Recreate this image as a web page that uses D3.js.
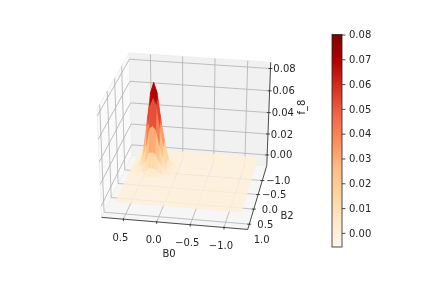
<!DOCTYPE html>
<html>
<head>
<meta charset="utf-8">
<script src="https://cdn.jsdelivr.net/npm/d3@7"></script>
<style>
  html, body { margin: 0; padding: 0; background: #fff; }
  svg { filter: blur(0.35px); }
  text { font-family: "DejaVu Sans", sans-serif; font-size: 10px; fill: #262626; }
</style>
</head>
<body>
<svg id="chart" width="423" height="282"></svg>
<script>
// tick labels
const b0Ticks = [0.5, 0, -0.5, -1];
const b2Ticks = [-1, -0.5, 0, 0.5, 1];
const fTicks = [0, 0.02, 0.04, 0.06, 0.08];
const barTicks = [0, 0.01, 0.02, 0.03, 0.04, 0.05, 0.06, 0.07, 0.08];

// axis limits
const b0Limits = [-1.35, 0.83];
const b2Limits = [-1.56, 0.67];
const fLimits = [-0.0102, 0.0856];
const colorLimits = [-0.0057, 0.08];

// surface grid, dense only around the peak
const b0Grid = [-1.23, -0.04, 0.0, 0.05, 0.1, 0.15, 0.2, 0.25, 0.3, 0.35, 0.4, 0.45, 0.5, 0.55, 0.6, 0.64, 0.66];
const b2Grid = [-1.45, -1.09, -1.03, -0.97, -0.9, -0.83, -0.77, -0.7, -0.64, -0.57, -0.5, -0.45, 0.5];
// f_8 on the inner nodes, rows follow b2Grid, columns follow b0Grid
const fPeak = [
  [.0001, .0006, .0008, .0030, .0038, .0070, .0066, .0067, .0036, .0030, .0007, .0005, .0001],
  [.0002, .0014, .0022, .0082, .0108, .0198, .0192, .0190, .0112, .0074, .0022, .0014, .0002],
  [.0005, .0032, .0044, .0165, .0235, .0410, .0420, .0395, .0245, .0152, .0048, .0028, .0005],
  [.0008, .0040, .0080, .0235, .0395, .0610, .0670, .0600, .0390, .0232, .0078, .0038, .0008],
  [.0009, .0042, .0098, .0262, .0470, .0700, .0785, .0690, .0475, .0255, .0100, .0040, .0009],
  [.0008, .0036, .0084, .0226, .0402, .0605, .0670, .0590, .0410, .0220, .0086, .0034, .0008],
  [.0005, .0026, .0050, .0150, .0250, .0390, .0425, .0400, .0240, .0160, .0046, .0030, .0005],
  [.0002, .0014, .0024, .0076, .0118, .0188, .0200, .0195, .0110, .0084, .0024, .0012, .0002],
  [.0001, .0005, .0009, .0030, .0040, .0064, .0072, .0070, .0036, .0032, .0009, .0006, .0001]
];

const svg = d3.select('#chart');

// camera, same idea as mplot3d
const elev = 30 * Math.PI / 180;
const azim = 100 * Math.PI / 180;
const dist = 10;
const centerX = 187, centerY = 139, scaleX = 146, scaleY = 122;

const toU = d3.scaleLinear().domain(b0Limits).range([0, 1]);
const toV = d3.scaleLinear().domain(b2Limits).range([0, 1]);
const toW = d3.scaleLinear().domain(fLimits).range([0, 1]);

const viewDir = [Math.cos(elev) * Math.cos(azim), Math.cos(elev) * Math.sin(azim), Math.sin(elev)];
const rightDir = [-Math.sin(azim), Math.cos(azim), 0];
const upDir = [-Math.sin(elev) * Math.cos(azim), -Math.sin(elev) * Math.sin(azim), Math.cos(elev)];
const dot = (a, b) => a[0] * b[0] + a[1] * b[1] + a[2] * b[2];

// returns screen x, y and distance from the eye
function project(b0, b2, f) {
    const p = [toU(b0) - 0.5, toV(b2) - 0.5, toW(f) - 0.5];
    const depth = dist - dot(p, viewDir);
    return [
        centerX + scaleX * dot(p, rightDir) * dist / depth,
        centerY - scaleY * dot(p, upDir) * dist / depth,
        depth
    ];
}

const [x0, x1] = b0Limits, [y0, y1] = b2Limits, [z0, z1] = fLimits;
const polygon = pts => d3.line()(pts.map(p => project(...p)));

// panes
const panes = [
    { fill: '#fafafa', pts: [[x1, y0, z0], [x1, y1, z0], [x1, y1, z1], [x1, y0, z1]] },
    { fill: '#f1f1f1', pts: [[x0, y0, z0], [x1, y0, z0], [x1, y0, z1], [x0, y0, z1]] },
    { fill: '#f6f6f6', pts: [[x0, y0, z0], [x1, y0, z0], [x1, y1, z0], [x0, y1, z0]] }
];
svg.append('g').selectAll('path').data(panes).join('path')
    .attr('d', d => polygon(d.pts) + 'Z')
    .attr('fill', d => d.fill)
    .attr('stroke', '#ececec')
    .attr('stroke-width', 0.8);

// grid lines
const gridLines = [];
b0Ticks.forEach(t => gridLines.push([[t, y1, z0], [t, y0, z0], [t, y0, z1]]));
b2Ticks.filter(t => t <= y1).forEach(t => gridLines.push([[x0, t, z0], [x1, t, z0], [x1, t, z1]]));
fTicks.forEach(t => gridLines.push([[x0, y0, t], [x1, y0, t], [x1, y1, t]]));
svg.append('g').selectAll('path').data(gridLines).join('path')
    .attr('d', polygon)
    .attr('fill', 'none')
    .attr('stroke', '#b0b0b0')
    .attr('stroke-width', 0.8);

// colours
const colorDomain = d3.range(9).map(i => colorLimits[0] + (colorLimits[1] - colorLimits[0]) * i / 8);
const color = d3.scaleLinear().domain(colorDomain).range(d3.schemeOrRd[9]);

// surface, flat zero everywhere outside fPeak
const fAt = (i, j) => (fPeak[j - 2] && fPeak[j - 2][i - 2]) || 0;
const faces = [];
for (let j = 0; j < b2Grid.length - 1; j++) {
    for (let i = 0; i < b0Grid.length - 1; i++) {
        const corners = [[i, j], [i + 1, j], [i + 1, j + 1], [i, j + 1]]
            .map(([a, b]) => [b0Grid[a], b2Grid[b], fAt(a, b)]);
        const screen = corners.map(c => project(...c));
        faces.push({
            corners,
            value: d3.mean(corners, c => c[2]),
            depth: d3.mean(screen, s => s[2])
        });
    }
}
faces.sort((a, b) => (a.value > 0) - (b.value > 0) || b.depth - a.depth);
svg.append('g').selectAll('path').data(faces).join('path')
    .attr('d', d => polygon(d.corners) + 'Z')
    .attr('fill', d => color(d.value))
    .attr('fill-opacity', d => d.value > 0 ? 1 : 0.88)
    .attr('stroke', d => d.value > 0 ? color(d.value) : 'none')
    .attr('stroke-width', 0.3);

// axis lines
const axisLine = [[x0, y1, z0], [x1, y1, z0]];
const axes = [axisLine, [[x0, y0, z0], [x0, y1, z0]], [[x0, y0, z0], [x0, y0, z1]]];
svg.append('g').selectAll('path').data(axes).join('path')
    .attr('d', polygon)
    .attr('stroke', '#222')
    .attr('stroke-width', 0.8)
    .attr('fill', 'none');

// ticks and their labels
function drawTicks(ticks, pos, inner, outer, dx, dy, fmt) {
    const g = svg.append('g');
    ticks.forEach(t => {
        const a = project(...pos(t));
        if (inner !== null) {
            g.append('line')
                .attr('x1', a[0] + inner[0]).attr('y1', a[1] + inner[1])
                .attr('x2', a[0] + outer[0]).attr('y2', a[1] + outer[1])
                .attr('stroke', '#222').attr('stroke-width', 0.8);
        }
        g.append('text')
            .attr('x', a[0] + dx).attr('y', a[1] + dy)
            .attr('text-anchor', 'middle')
            .attr('dominant-baseline', 'central')
            .text(fmt(t));
    });
}
const minus = s => s.replace('-', '\u2212');
const fmt1 = t => minus(d3.format('.1f')(t));
const fmt2 = t => d3.format('.2f')(t);
drawTicks(b0Ticks, t => [t, y1, z0], [0, -1], [0, 2], -3, 18, fmt1);
drawTicks(b2Ticks.filter(t => t <= y1), t => [x0, t, z0], [-2, 0], [2, 0], 16, 0, fmt1);
drawTicks(b2Ticks.filter(t => t > y1), t => [x0, t, z0], null, null, 17, 0, fmt1);
drawTicks(fTicks, t => [x0, y0, t], [-2, 0], [2, 0], 14, 0, fmt2);

// axis titles
svg.append('text').attr('x', 169).attr('y', 253).attr('text-anchor', 'middle').attr('dominant-baseline', 'central').text('B0');
svg.append('text').attr('x', 287).attr('y', 215).attr('text-anchor', 'middle').attr('dominant-baseline', 'central').text('B2');
svg.append('text').attr('transform', 'translate(301,107) rotate(-90)').attr('text-anchor', 'middle').attr('dominant-baseline', 'central').text('f_8');

// colour bar
const barLeft = 332, barWidth = 10;
const barScale = d3.scaleLinear().domain(colorLimits).range([247, 34.5]);
const gradient = svg.append('defs').append('linearGradient')
    .attr('id', 'barFill').attr('x1', 0).attr('y1', 1).attr('x2', 0).attr('y2', 0);
gradient.selectAll('stop').data(colorDomain).join('stop')
    .attr('offset', (d, i) => i / 8)
    .attr('stop-color', d => color(d));
svg.append('rect')
    .attr('x', barLeft).attr('y', barScale.range()[1])
    .attr('width', barWidth).attr('height', barScale.range()[0] - barScale.range()[1])
    .attr('fill', 'url(#barFill)')
    .attr('stroke', '#222').attr('stroke-width', 0.8);
const barAxis = svg.append('g')
    .attr('transform', `translate(${barLeft + barWidth},0)`)
    .call(d3.axisRight(barScale).tickValues(barTicks).tickFormat(fmt2).tickSize(3.5).tickPadding(3.5));
barAxis.select('.domain').remove();
barAxis.selectAll('line').attr('stroke', '#222').attr('stroke-width', 0.8);
barAxis.selectAll('text').style('font-size', '10px');
</script>
</body>
</html>
